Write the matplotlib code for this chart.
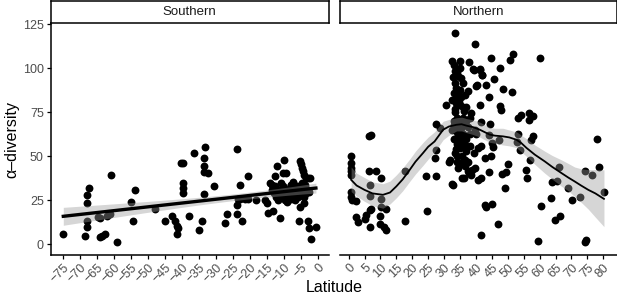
import numpy as np
import matplotlib.pyplot as plt

plt.rcParams['font.family'] = ['Liberation Sans', 'DejaVu Sans']

# Southern hemisphere sites: latitude, alpha-diversity
s_lat = [-74.8, -67.2, -67.7, -67.7, -67.7, -67.7, -68.3,
         -64.5, -64.0, -64.0, -63.4, -62.6, -62.1, -61.1, -60.8, -59.1,
         -54.9, -54.4, -53.7, -47.8, -45.0, -42.8, -42.0, -41.5, -41.2, -41.3,
         -40.3, -39.6, -39.6, -39.6, -39.6, -38.0, -36.5, -35.0, -34.2,
         -33.3, -33.4, -33.4, -33.4, -32.3, -33.5, -30.5, -27.3, -26.7,
         -23.7, -23.8, -23.8, -23.0, -23.5, -23.0, -21.4, -22.4, -20.5, -20.6,
         -18.2, -15.6, -15.1, -14.6, -13.1, -14.0, -13.5, -12.7, -12.6, -11.9,
         -11.0, -10.1, -10.2, -9.5, -7.3, -7.7,
         -12.0, -11.5, -11.0, -10.5, -10.2, -10.0, -9.8, -9.5, -9.3, -9.0,
         -8.8, -8.5, -8.2, -8.0, -7.8, -7.5, -7.2, -7.0, -6.8, -6.5,
         -6.2, -6.0, -5.8, -5.5, -5.0, -4.5, -4.0, -3.5, -3.0, -2.5,
         -11.8, -12.3, -13.0, -10.8, -8.0, -7.4, -13.4, -9.0, -6.6, -4.2,
         -5.3, -5.1, -4.8, -4.4, -4.0, -3.5, -3.0, -2.4, -4.6, -3.8,
         -5.5, -5.3, -4.0, -3.0, -2.6, -2.1, -0.6]
s_val = [6.0, 32.3, 28.2, 23.4, 13.4, 10.1, 4.8,
         15.4, 14.8, 4.4, 5.0, 6.0, 16.2, 17.1, 39.2, 1.2,
         24.0, 13.4, 31.0, 20.2, 13.4, 16.2, 13.4, 10.5, 9.2, 6.0,
         46.1, 46.1, 34.7, 31.9, 29.0, 16.0, 52.0, 8.2, 13.4,
         55.3, 49.0, 44.5, 41.0, 40.5, 28.5, 33.0, 12.0, 17.3,
         54.0, 22.5, 17.3, 26.0, 25.6, 34.0, 26.0, 13.4, 39.0, 26.0,
         25.3, 25.3, 23.5, 18.0, 19.2, 35.0, 34.0, 33.0, 39.0, 44.3,
         15.3, 48.0, 40.5, 40.5, 35.2, 32.9,
         30.0, 28.0, 31.0, 27.0, 33.0, 29.0, 25.0, 31.0, 27.0, 24.0,
         30.0, 28.0, 32.0, 26.0, 34.0, 29.0, 27.0, 31.0, 28.0, 30.0,
         33.0, 27.0, 29.0, 31.0, 28.0, 30.0, 32.0, 29.0, 31.0, 30.0,
         25.0, 27.0, 29.0, 35.0, 34.0, 29.0, 31.0, 26.0, 25.0, 27.0,
         47.6, 45.7, 43.4, 41.5, 39.6, 37.7, 37.7, 38.0, 35.0, 34.0,
         13.4, 21.5, 23.4, 13.4, 9.2, 3.1, 10.1]

# Northern hemisphere sites
n_lat = [0.8, 0.8, 0.8, 0.8, 0.9, 0.8, 0.8, 1.0, 2.4,
         2.4, 2.9, 5.0, 5.6, 6.6, 7.1, 6.6, 10.0, 10.0, 11.0, 11.9, 10.3, 11.8,
         6.4, 6.9, 6.4, 8.7, 6.8, 10.3, 6.8, 10.3,
         17.8, 17.8, 24.6, 24.2, 27.6, 27.1, 27.4, 27.6, 28.6, 30.7, 32.6, 31.5,
         33.3, 39.7, 32.4, 34.9, 37.8, 33.3, 34.4, 35.4, 39.0, 41.2, 41.9, 40.0,
         37.5, 36.5, 35.4, 33.3, 33.8, 33.0, 34.0, 33.6, 34.9, 37.0, 36.2, 38.6,
         33.5, 34.0, 33.2, 34.2, 35.5, 37.5, 39.8, 34.5, 36.0, 39.9,
         33.0, 34.0, 35.0, 36.0, 37.0, 33.5, 35.5, 38.0, 39.5, 40.5,
         31.8, 33.9, 34.4, 36.5, 37.5, 38.6, 35.5, 36.3, 40.7, 32.8, 37.8, 38.9,
         32.5, 33.0, 34.0, 35.0, 36.0, 37.0, 38.0, 36.0, 35.0, 36.0, 34.0, 35.0,
         33.0, 32.8, 34.0, 32.5, 37.0, 38.0, 35.0, 36.5, 34.0, 37.5,
         34.5, 35.5, 33.8, 36.8, 35.2, 33.4, 34.8, 36.2,
         43.0, 44.6, 50.6, 51.5, 60.0, 39.4, 41.4, 47.5, 42.0, 45.6, 40.2, 48.5,
         51.4, 44.0, 41.3, 47.7, 48.0, 53.2, 54.0, 56.7, 58.0, 56.7, 41.5, 44.3,
         44.0, 53.2, 58.0, 77.9,
         41.5, 44.9, 45.2, 47.3, 52.9, 53.8, 57.4, 57.0, 42.8, 44.7, 50.1, 48.2,
         49.4, 44.1, 41.7, 49.0, 55.7, 56.1, 66.1, 64.0, 65.3, 69.0, 63.7, 70.3,
         72.6, 74.2, 76.3, 78.6, 80.2,
         42.8, 43.3, 45.1, 60.4, 64.8, 66.4, 47.0, 41.5, 59.5, 74.2, 74.5, 39.6]
n_val = [50.0, 46.0, 43.4, 41.5, 39.6, 30.0, 27.0, 25.0, 24.4,
         15.8, 13.0, 14.3, 16.8, 19.6, 20.0, 10.0, 16.2, 11.7, 9.8, 8.3, 21.0, 20.0,
         61.4, 62.3, 42.0, 42.0, 34.0, 38.0, 27.5, 25.7,
         42.0, 13.4, 19.2, 39.0, 39.0, 49.0, 53.8, 68.5, 66.2, 79.4, 34.3, 46.8,
         120.0, 114.0, 104.5, 104.5, 103.5, 98.4, 95.6, 94.6, 99.4, 99.4, 96.5, 90.3,
         87.0, 85.0, 83.6, 91.8, 89.0, 86.0, 83.3, 80.4, 79.4, 77.9, 75.6, 74.7,
         75.0, 72.0, 70.0, 66.0, 68.0, 67.0, 65.0, 62.0, 63.0, 62.5,
         60.0, 57.0, 55.0, 58.0, 53.0, 52.0, 50.0, 56.0, 52.0, 55.0,
         48.0, 47.0, 43.4, 44.3, 41.5, 39.6, 37.5, 37.5, 36.7, 34.0, 40.5, 42.4,
         65.0, 68.0, 64.0, 70.0, 72.0, 70.0, 72.0, 78.0, 88.0, 92.0, 98.0, 100.0,
         102.0, 95.0, 85.0, 82.0, 60.0, 63.0, 46.0, 48.0, 50.0, 47.0,
         58.0, 61.0, 54.0, 56.0, 66.0, 77.0, 81.0, 69.0,
         90.4, 106.0, 105.0, 108.3, 106.0, 99.0, 99.0, 100.0, 96.0, 94.2, 90.4, 88.5,
         86.5, 83.6, 79.4, 78.9, 76.2, 71.9, 73.7, 74.7, 72.8, 70.5, 69.6, 68.6,
         62.0, 62.7, 61.4, 60.0,
         55.7, 57.6, 55.4, 59.5, 58.2, 53.8, 59.5, 48.1, 49.0, 50.0, 45.8, 40.0,
         41.0, 41.0, 38.0, 32.3, 42.4, 38.0, 44.0, 35.2, 35.8, 32.0, 26.3, 25.3,
         27.2, 41.5, 39.2, 44.0, 30.0,
         22.5, 21.2, 23.1, 22.1, 14.0, 16.2, 11.5, 5.4, 2.2, 1.6, 2.5, 43.6]

# loess smooth
sm_lat = [0.8, 2.5, 5, 7.5, 10.8, 13, 15, 17, 19.2, 21, 23.4, 25, 27, 29.7,
          31.5, 33.9, 35.5, 37, 39, 41.2, 44.3, 46, 48.5, 50.5, 52.7, 54.3,
          55.9, 58.5, 61.6, 64, 66.9, 69, 71, 73, 75.3, 77.5, 80.2]
sm_fit = [36.7, 33.5, 31, 29, 28.2, 29.5, 33, 37, 42.4, 47, 52, 55.5, 58.5,
          65.2, 67, 68, 68.3, 67.5, 66.7, 65.2, 62.4, 61.8, 61.4, 60.8, 59.5,
          57.5, 54.8, 51, 47.2, 44, 40.5, 38, 35.8, 33.5, 31, 29, 25.9]
sm_lo = [30, 27.5, 24.5, 22, 20.6, 23, 26.5, 30.5, 35.8, 40, 45, 48.5, 52.5,
         59.5, 62, 64.5, 64.5, 63.5, 62.5, 61, 58, 57.5, 56.5, 56, 55,
         52.5, 50, 45.5, 40.5, 37, 33, 30.5, 27.2, 24, 20, 15.5, 10.1]
sm_hi = [44, 40.5, 38, 35.5, 34.5, 36, 39.5, 43.5, 48.5, 53, 58, 61, 64,
         70, 71, 72, 72.3, 71.5, 70.8, 69.5, 66.5, 66, 66, 65, 64,
         62, 60, 56.5, 53, 50.5, 48, 46, 44, 43, 42.5, 42.5, 42.4]

# linear fit for the southern panel
x = np.array(s_lat)
y = np.array(s_val)
b, a = np.polyfit(x, y, 1)
xs = np.linspace(x.min(), x.max(), 80)
res = y - (a + b * x)
n = len(x)
s = np.sqrt((res ** 2).sum() / (n - 2))
se = s * np.sqrt(1 / n + (xs - x.mean()) ** 2 / ((x - x.mean()) ** 2).sum())
fit = a + b * xs

W, H = 617, 299
fig = plt.figure(figsize=(W / 100, H / 100), dpi=100)
ax1 = fig.add_axes([50.7 / W, 44 / H, 277.8 / W, 232.5 / H])
ax2 = fig.add_axes([340 / W, 44 / H, 277 / W, 232.5 / H])

tcol = '#4D4D4D'
for ax in (ax1, ax2):
    ax.set_ylim(-6, 126.1)
    for sp in ('top', 'right'):
        ax.spines[sp].set_visible(False)
    ax.spines['bottom'].set_linewidth(1.1)
    ax.spines['left'].set_linewidth(1.1)
    ax.tick_params(axis='both', length=3, width=0.9, color='black',
                   labelsize=9, labelcolor=tcol, pad=2)

ax1.scatter(s_lat, s_val, s=32, color='black', linewidths=0, zorder=2)
ax1.fill_between(xs, fit - 1.97 * se, fit + 1.97 * se, color='#999999',
                 alpha=0.4, linewidth=0, zorder=3)
ax1.plot(xs, fit, color='black', lw=2.4, zorder=4)
ax1.set_xlim(-78.5, 3.1)
ax1.set_xticks(np.arange(-75, 1, 5))
ax1.set_yticks([0, 25, 50, 75, 100, 125])

ax2.scatter(n_lat, n_val, s=32, color='black', linewidths=0, zorder=2)
ax2.fill_between(sm_lat, sm_lo, sm_hi, color='#999999', alpha=0.4,
                 linewidth=0, zorder=3)
ax2.plot(sm_lat, sm_fit, color='black', lw=1.3, zorder=4)
ax2.set_xlim(-2.7, 84.3)
ax2.set_xticks(np.arange(0, 81, 5))
ax2.spines['left'].set_visible(False)
ax2.tick_params(axis='y', left=False, labelleft=False)

for ax in (ax1, ax2):
    for lab in ax.get_xticklabels():
        lab.set_rotation(45)
        lab.set_ha('right')
        lab.set_va('top')
        lab.set_rotation_mode('anchor')

# facet strips
for ax, name in ((ax1, 'Southern'), (ax2, 'Northern')):
    pos = ax.get_position()
    st = fig.add_axes([pos.x0, (H - 22.5) / H, pos.width, 21.5 / H])
    st.set_xticks([])
    st.set_yticks([])
    for sp in st.spines.values():
        sp.set_linewidth(1.1)
    st.text(0.5, 0.5, name, ha='center', va='center', fontsize=9.5,
            color='#1A1A1A', transform=st.transAxes)

fig.text(334 / W, 12 / H, 'Latitude', ha='center', va='center', fontsize=11.5)
fig.text(12 / W, 160 / H, 'α–diversity', ha='center', va='center',
         rotation=90, fontsize=11.5)

fig.savefig('out.png', dpi=100)
